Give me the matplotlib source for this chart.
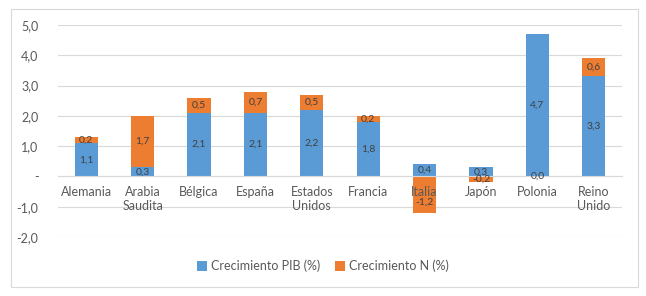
import numpy as np
import matplotlib; matplotlib.use("Agg"); import matplotlib.pyplot as plt
from matplotlib.patches import Rectangle

plt.rcParams["font.family"] = ["Lato", "DejaVu Sans"]

paises = ["Alemania", "Arabia\nSaudita", "Bélgica", "España", "Estados\nUnidos",
          "Francia", "Italia", "Japón", "Polonia", "Reino\nUnido"]
pib = [1.1, 0.3, 2.1, 2.1, 2.2, 1.8, 0.4, 0.3, 4.7, 3.3]
crec_n = [0.2, 1.7, 0.5, 0.7, 0.5, 0.2, -1.2, -0.2, 0.0, 0.6]
yticks = [-2, -1, 0, 1, 2, 3, 4, 5]

AZUL, NARANJA, TXT = "#5B9BD5", "#ED7D31", "#404040"
fmt = lambda v: f"{v:.1f}".replace(".", ",")

fig = plt.figure(figsize=(6.46, 2.96), dpi=100)
ax = fig.add_axes([58/646, 1-237/296, 564/646, 212/296])
x = np.arange(len(paises))
pib = np.array(pib); crec_n = np.array(crec_n)
base_n = np.where(crec_n > 0, pib, 0.0)

ax.bar(x, pib, 0.41, color=AZUL, label="Crecimiento PIB (%)", zorder=2)
ax.bar(x, crec_n, 0.41, bottom=base_n, color=NARANJA, label="Crecimiento N (%)", zorder=2)
for i in range(len(x)):
    ax.text(x[i], pib[i]/2, fmt(pib[i]), ha="center", va="center", fontsize=7.5, color=TXT, zorder=3)
    # long negative segments: label sits a bit lower so the category name stays readable
    frac = 0.72 if crec_n[i] < -0.5 else 0.5
    ax.text(x[i], base_n[i] + crec_n[i]*frac, fmt(crec_n[i]), ha="center", va="center",
            fontsize=7.5, color=TXT, zorder=5)

ax.set_xlim(-0.5, len(x)-0.5); ax.set_ylim(-2, 5)
ax.set_yticks(yticks)
ax.set_yticklabels(["-" if v == 0 else fmt(v) for v in yticks])
ax.set_xticks(x); ax.set_xticklabels(paises, linespacing=1.1)
ax.tick_params(axis="both", length=0, labelsize=9, labelcolor="#595959")
ax.tick_params(axis="x", pad=7)
ax.tick_params(axis="y", pad=14)
for s in ["top", "right", "left"]:
    ax.spines[s].set_visible(False)
ax.spines["bottom"].set_position(("data", 0))
ax.spines["bottom"].set_color("#d9d9d9")
ax.grid(axis="y", color="#d9d9d9", lw=0.8, zorder=0)
ax.set_axisbelow(True)
ax.xaxis.set_zorder(4)  # category names drawn over the bars (e.g. Italia)

fig.legend(loc="center", bbox_to_anchor=(0.5, 1-266/296), ncol=2, frameon=False,
           fontsize=9, handlelength=0.8, handleheight=0.8, handletextpad=0.3,
           columnspacing=1.2, labelcolor="#595959")
fig.patches.append(Rectangle((11/646, 1-287/296), 627/646, 278/296, transform=fig.transFigure,
                             fill=False, edgecolor="#d9d9d9", lw=0.8))
fig.savefig("out.png", dpi=100)
